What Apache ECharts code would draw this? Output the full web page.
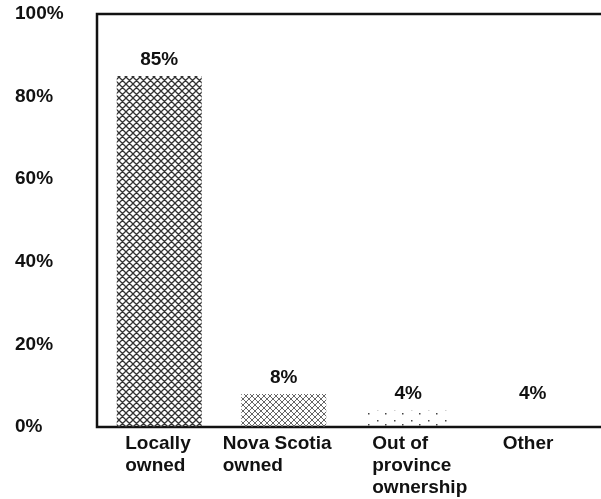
<!DOCTYPE html>
<html>
<head>
<meta charset="utf-8">
<script src="https://cdn.jsdelivr.net/npm/echarts@6/dist/echarts.min.js"></script>
<style>
  html, body { margin: 0; padding: 0; background: #fff; }
  #chart { width: 601px; height: 499px; }
</style>
</head>
<body>
<div id="chart"></div>
<script>
// Ownership shares (percent)
const categories = ['Locally\nowned', 'Nova Scotia\nowned', 'Out of\nprovince\nownership', 'Other'];
const values = [85, 8, 4, 4];
const yTicks = [0, 20, 40, 60, 80, 100];

const FONT = "'Liberation Sans', Arial, Helvetica, sans-serif";
const INK = '#111';

// Diagonal cross-hatch tile
function hatch(size, color, width) {
  const c = document.createElement('canvas');
  c.width = c.height = size;
  const g = c.getContext('2d');
  g.strokeStyle = color;
  g.lineWidth = width;
  g.beginPath();
  for (const o of [-size, 0, size]) {
    g.moveTo(o, 0); g.lineTo(o + size, size);
    g.moveTo(o, size); g.lineTo(o + size, 0);
  }
  g.stroke();
  return c;
}

// Sparse stipple tile
function stipple(w, h, color, dots) {
  const c = document.createElement('canvas');
  c.width = w; c.height = h;
  const g = c.getContext('2d');
  g.fillStyle = color;
  dots.forEach(([x, y]) => g.fillRect(x, y, 1.5, 1.5));
  return c;
}

const fills = [
  { image: hatch(7, '#333', 1.3), repeat: 'repeat' },
  { image: hatch(6, '#555', 0.9), repeat: 'repeat' },
  { image: stipple(17, 11, '#444', [[3, 2], [11, 6]]), repeat: 'repeat' },
  'rgba(0,0,0,0)'
];

// Per-category label boxes (lines left-aligned inside a centred box)
const labelBoxWidths = [68, 122, 72, 60];
const rich = {};
labelBoxWidths.forEach((w, i) => {
  rich['c' + i] = {
    width: w, align: 'left', fontFamily: FONT, fontWeight: 'bold',
    fontSize: 19, lineHeight: 22, color: INK
  };
});

const chart = echarts.init(document.getElementById('chart'), null, { renderer: 'canvas' });

chart.setOption({
  animation: false,
  backgroundColor: '#fff',
  grid: [
    // plot frame, running past the right edge of the page
    { left: 97, width: 530, top: 14, bottom: 72, show: true, outerBoundsMode: 'none',
      borderColor: INK, borderWidth: 2.5, backgroundColor: 'transparent' },
    { left: 97, right: 6, top: 14, bottom: 72, outerBoundsMode: 'none' }
  ],
  xAxis: [
    { gridIndex: 0, type: 'value', show: false, min: 0, max: 1 },
    {
      gridIndex: 1, type: 'category', data: categories,
      axisLine: { show: false }, axisTick: { show: false },
      axisLabel: {
        interval: 0, margin: 6, align: 'center',
        formatter: (v, i) => v.split('\n').map(l => '{c' + i + '|' + l + '}').join('\n'),
        rich
      }
    }
  ],
  yAxis: [
    { gridIndex: 0, type: 'value', show: false, min: 0, max: 1 },
    {
      gridIndex: 1, type: 'value', min: yTicks[0], max: yTicks[yTicks.length - 1],
      interval: yTicks[1] - yTicks[0],
      axisLine: { show: false }, axisTick: { show: false }, splitLine: { show: false },
      axisLabel: {
        formatter: '{value}%', align: 'left', margin: 82,
        fontFamily: FONT, fontWeight: 'bold', fontSize: 19, color: INK
      }
    }
  ],
  series: [{
    type: 'bar', xAxisIndex: 1, yAxisIndex: 1,
    barWidth: 85,
    data: values.map((v, i) => ({ value: v, itemStyle: { color: fills[i] } })),
    label: {
      show: true, position: 'top', distance: 7,
      formatter: '{c}%',
      fontFamily: FONT, fontWeight: 'bold', fontSize: 19, color: INK
    }
  }]
});
</script>
</body>
</html>
